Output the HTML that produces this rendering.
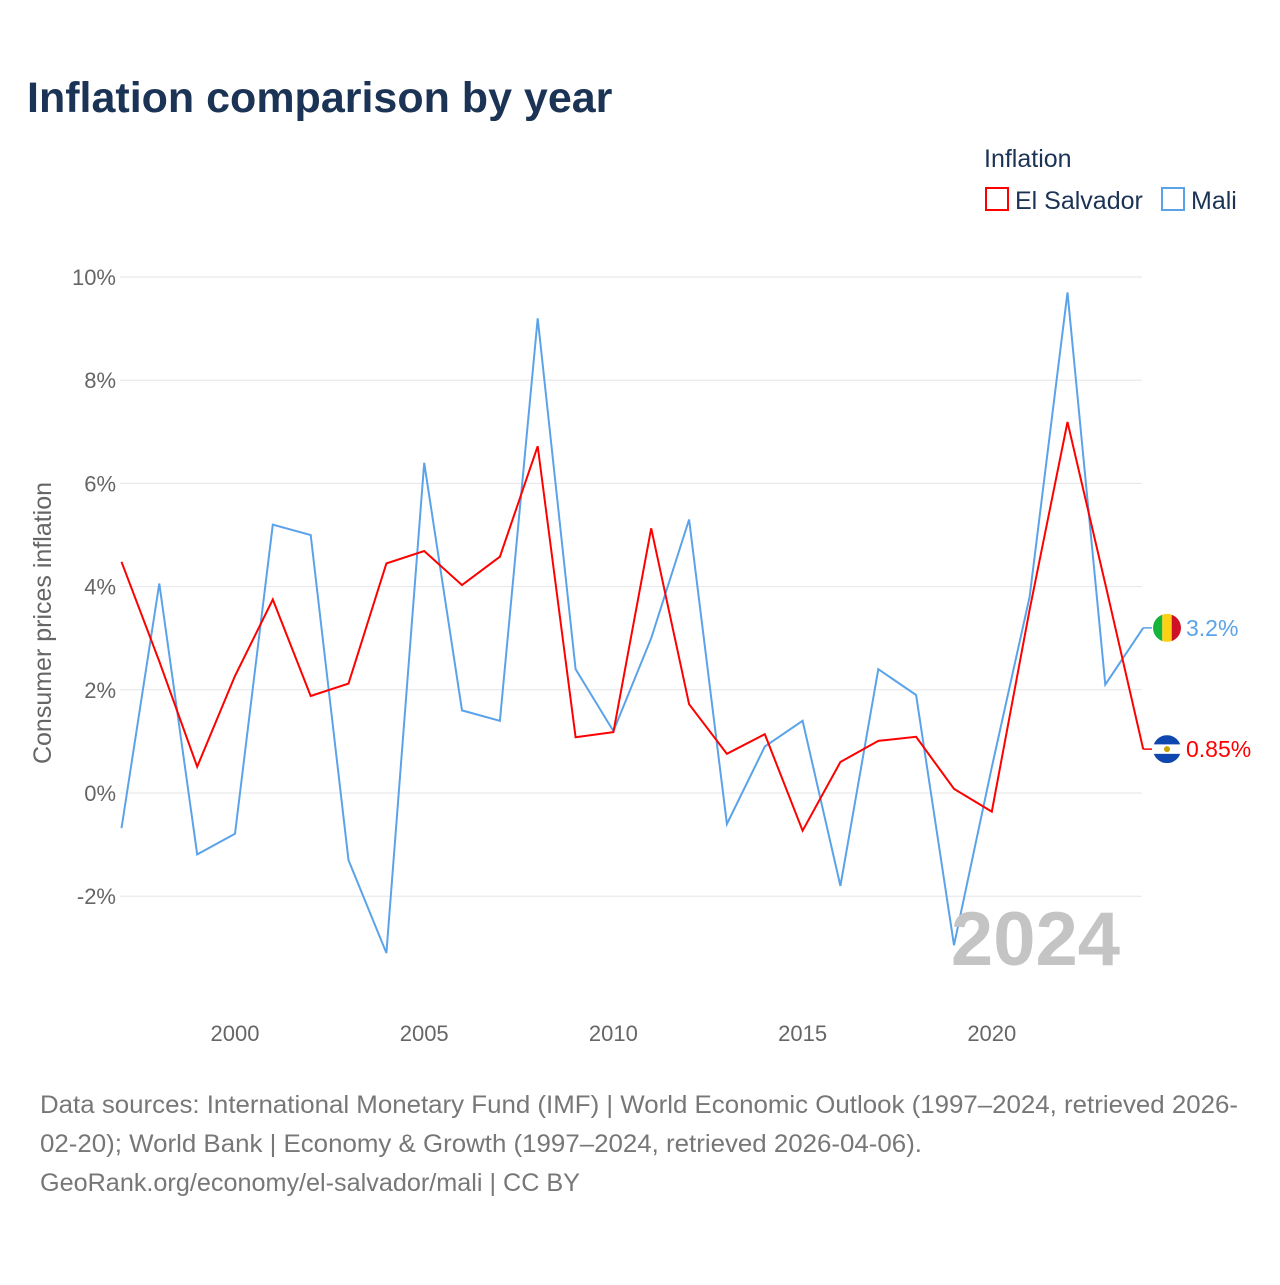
<!DOCTYPE html>
<html><head><meta charset="utf-8"><style>
body{margin:0;background:#fff;font-family:"Liberation Sans",sans-serif;}
</style></head><body>
<svg id="chart" width="1280" height="1280" viewBox="0 0 1280 1280" xmlns="http://www.w3.org/2000/svg">
<text x="27" y="112" font-size="43" font-weight="bold" fill="#1b3354">Inflation comparison by year</text>
<text x="984" y="167" font-size="25" fill="#1b3354">Inflation</text>
<g><rect x="986" y="188" width="22" height="22" fill="none" stroke="#f00" stroke-width="2"/><text x="1015" y="209" font-size="25" fill="#1b3354">El Salvador</text></g>
<g><rect x="1162" y="188" width="22" height="22" fill="none" stroke="#5ba3e8" stroke-width="2"/><text x="1191" y="209" font-size="25" fill="#1b3354">Mali</text></g>
<g id="grid"></g><g id="xt"></g><g id="lines"></g>
<text transform="translate(51,623) rotate(-90)" text-anchor="middle" font-size="25" fill="#666">Consumer prices inflation</text>
<text x="1120" y="965" text-anchor="end" font-size="76" font-weight="bold" fill="#c4c4c4">2024</text>
<text font-size="25" fill="#777"><tspan x="40" y="1113" textLength="1198" lengthAdjust="spacingAndGlyphs">Data sources: International Monetary Fund (IMF) | World Economic Outlook (1997–2024, retrieved 2026-</tspan><tspan x="40" y="1152" textLength="882" lengthAdjust="spacingAndGlyphs">02-20); World Bank | Economy &amp; Growth (1997–2024, retrieved 2026-04-06).</tspan><tspan x="40" y="1191" textLength="540" lengthAdjust="spacingAndGlyphs">GeoRank.org/economy/el-salvador/mali | CC BY</tspan></text>
</svg>
<script>
const years=[1997,1998,1999,2000,2001,2002,2003,2004,2005,2006,2007,2008,2009,2010,2011,2012,2013,2014,2015,2016,2017,2018,2019,2020,2021,2022,2023,2024];
const elSalvador=[4.48,2.55,0.51,2.27,3.75,1.88,2.12,4.45,4.69,4.03,4.58,6.72,1.08,1.18,5.13,1.72,0.76,1.14,-0.73,0.6,1.01,1.09,0.08,-0.36,3.55,7.19,4.05,0.85];
const mali=[-0.68,4.06,-1.19,-0.79,5.2,5.0,-1.3,-3.1,6.4,1.6,1.4,9.2,2.4,1.2,3.0,5.3,-0.6,0.9,1.4,-1.8,2.4,1.9,-2.95,0.5,3.8,9.7,2.1,3.2];
const yTicks=[-2,0,2,4,6,8,10];
const xTicks=[2000,2005,2010,2015,2020];
const NS="http://www.w3.org/2000/svg";
const X=y=>235+(y-2000)*37.84, Y=v=>793-v*51.6;
function mk(t,a,p){const e=document.createElementNS(NS,t);for(const k in a)e.setAttribute(k,a[k]);p.appendChild(e);return e;}
const g=document.getElementById('grid');
yTicks.forEach(v=>{
 const l=mk('line',{x1:120,x2:1142,y1:Y(v),y2:Y(v),stroke:'#e6e6e6','stroke-width':1},g);
 
 
 const t=mk('text',{x:116,y:Y(v)+8,'text-anchor':'end','font-size':22,fill:'#666'},g);t.textContent=v+'%';
 
 
});
const xt=document.getElementById('xt');
xTicks.forEach(v=>{const t=mk('text',{x:X(v),y:1041,'text-anchor':'middle','font-size':22,fill:'#666'},xt);t.textContent=v;
 
 });
const L=document.getElementById('lines');
function series(d,c,name,lab,flag){
 const p=mk('path',{d:d.map((v,i)=>(i?'L':'M')+X(years[i]).toFixed(1)+','+Y(v).toFixed(1)).join(''),fill:'none',stroke:c,'stroke-width':2},L);
 
 
 const lv=d[d.length-1],ly=Y(lv);
 mk('line',{x1:X(2024),x2:1152,y1:ly,y2:ly,stroke:c,'stroke-width':1.5},L);
 const fg=mk('g',{},L);
 
 
 if(flag==='mali'){mk('rect',{x:1153,y:ly-14,width:9.3,height:28,fill:'#14b53a'},fg);mk('rect',{x:1162.3,y:ly-14,width:9.4,height:28,fill:'#fcd116'},fg);mk('rect',{x:1171.7,y:ly-14,width:9.3,height:28,fill:'#ce1126'},fg);}
 else{mk('rect',{x:1153,y:ly-14,width:28,height:9.3,fill:'#0f47af'},fg);mk('rect',{x:1153,y:ly-4.7,width:28,height:9.4,fill:'#fff'},fg);mk('rect',{x:1153,y:ly+4.7,width:28,height:9.3,fill:'#0f47af'},fg);mk('circle',{cx:1167,cy:ly,r:3,fill:'#c9a200'},fg);}
 const cp=mk('clipPath',{id:'c'+flag},L);mk('circle',{cx:1167,cy:ly,r:14},cp);fg.setAttribute('clip-path','url(#c'+flag+')');
 const t=mk('text',{x:1186,y:ly+8,'font-size':23,fill:c},L);t.textContent=lab;
 
 
}
series(mali,'#5ba3e8','mali','3.2%','mali');
series(elSalvador,'#f00','el-salvador','0.85%','sv');
</script>
</body></html>
